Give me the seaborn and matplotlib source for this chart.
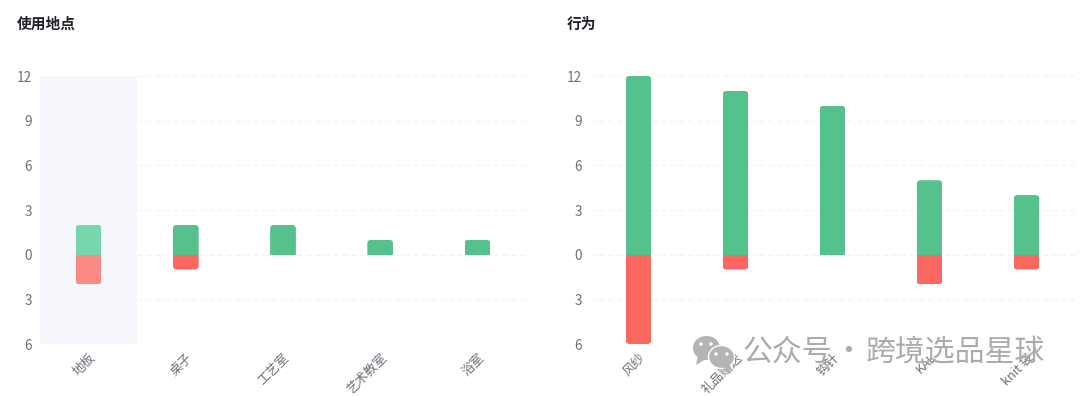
import numpy as np
import pandas as pd
import matplotlib
matplotlib.use("Agg")
import matplotlib.pyplot as plt
import seaborn as sns
from matplotlib.patches import Ellipse, FancyBboxPatch, Polygon
from matplotlib.ticker import FuncFormatter
from matplotlib.transforms import IdentityTransform

# ----------------------------------
# Data
# ----------------------------------
place_title = "使用地点"
place_labels = ["地板", "桌子", "工艺室", "艺术教室", "浴室"]
place_good = [2, 2, 2, 1, 1]
place_bad = [2, 1, 0, 0, 0]

action_title = "行为"
action_labels = ["风纱", "礼品赠送", "钩针", "KAL", "knit 袋"]
action_good = [12, 11, 10, 5, 4]
action_bad = [6, 1, 0, 2, 1]

y_ticks = [-6, -3, 0, 3, 6, 9, 12]

GREEN = "#55C28D"
RED = "#FA685F"
GREEN_LIGHT = "#78D6AC"
RED_LIGHT = "#FB8A85"
MARK = "#B4B4B4"

W, H = 1080, 396

sns.set_theme(style="white")
plt.rcParams["font.family"] = ["Noto Sans CJK SC", "DejaVu Sans"]

fig = plt.figure(figsize=(W / 100, H / 100), dpi=100)


def make_axes(left, right, top=76, bottom=344):
    return fig.add_axes([left / W, 1 - bottom / H, (right - left) / W, (bottom - top) / H])


def round_bar(ax, bar, radius=4):
    # round the far end of a bar, the end on the zero line stays square
    (x0, y0), (x1, y1) = ax.transData.transform(
        [(bar.get_x(), bar.get_y()), (bar.get_x() + bar.get_width(), bar.get_y() + bar.get_height())]
    )
    low, high = min(y0, y1), max(y0, y1)
    if bar.get_height() > 0:
        low -= 2 * radius
    else:
        high += 2 * radius
    box = FancyBboxPatch(
        (x0 + radius, low + radius), x1 - x0 - 2 * radius, high - low - 2 * radius,
        boxstyle=f"round,pad={radius},rounding_size={radius}",
    )
    bar.set_clip_path(box.get_path(), IdentityTransform())


def draw_panel(ax, title, title_x, labels, good, bad, highlight=None):
    df = pd.DataFrame({
        "label": labels * 2,
        "value": list(good) + [-v for v in bad],
        "kind": ["good"] * len(good) + ["bad"] * len(bad),
    })
    sns.barplot(
        data=df, x="label", y="value", hue="kind", order=labels,
        palette={"good": GREEN, "bad": RED}, dodge=False, width=0.265,
        legend=False, errorbar=None, saturation=1, linewidth=0, ax=ax, zorder=3,
    )
    ax.set_xlim(-0.5, len(labels) - 0.5)
    ax.set_ylim(-6, 12)
    ax.set_yticks(y_ticks)
    ax.yaxis.set_major_formatter(FuncFormatter(lambda v, _: f"{abs(int(v))}"))
    ax.set_xlabel("")
    ax.set_ylabel("")
    ax.grid(axis="y", color="#F1F2F5", lw=0.8, ls=(0, (4, 4)), zorder=1)
    ax.set_axisbelow(True)
    sns.despine(ax=ax, left=True, bottom=True)
    ax.tick_params(axis="y", length=0, pad=5.8, labelsize=9.8, labelcolor="#6E7079")
    ax.tick_params(axis="x", length=0, pad=5)
    ax.set_xticks(range(len(labels)))
    ax.set_xticklabels(labels, rotation=45, ha="right", rotation_mode="anchor",
                       fontsize=9.2, color="#6E7079")
    for bar in list(ax.patches):
        if bar.get_height() == 0 or np.isnan(bar.get_height()):
            bar.set_visible(False)
            continue
        if highlight is not None and abs(bar.get_x() + bar.get_width() / 2 - highlight) < 0.5:
            bar.set_facecolor(GREEN_LIGHT if bar.get_height() > 0 else RED_LIGHT)
        round_bar(ax, bar)
    if highlight is not None:
        ax.axvspan(highlight - 0.5, highlight + 0.5, color="#F6F7FC", lw=0, zorder=0)
    fig.text(title_x / W, 1 - 23.5 / H, title, fontsize=10.6, fontweight="bold",
             color="#1F2329", va="center", ha="left")


draw_panel(make_axes(40, 526), place_title, 17, place_labels, place_good, place_bad, highlight=0)
draw_panel(make_axes(590, 1075), action_title, 567, action_labels, action_good, action_bad)

# ----------------------------------
# Watermark on top of the right panel
# ----------------------------------
overlay = fig.add_axes([0, 0, 1, 1], facecolor="none")
overlay.set_xlim(0, W)
overlay.set_ylim(H, 0)
overlay.axis("off")
overlay.add_patch(Ellipse((706.5, 348), 27, 24, color=MARK, lw=0))
overlay.add_patch(Polygon([(698, 355), (696, 365), (706, 359)], color=MARK, lw=0))
overlay.add_patch(Ellipse((721.5, 357), 26, 23, fc=MARK, ec="white", lw=1))
overlay.add_patch(Polygon([(729, 364), (733, 371), (723, 368)], color=MARK, lw=0))
for x, y in [(701, 344), (711, 344), (716, 354), (727, 354)]:
    overlay.add_patch(Ellipse((x, y), 3.5, 3.5, color="white", lw=0))
overlay.text(742, 352, "公众号", fontsize=21.5, color="#ABABAB", va="center", ha="left")
overlay.text(848, 352, "·", fontsize=21.5, color="#ABABAB", va="center", ha="center")
overlay.text(866, 352, "跨境选品星球", fontsize=21.5, color="#ABABAB", va="center", ha="left")

fig.savefig("out.png", dpi=100, facecolor="white")
